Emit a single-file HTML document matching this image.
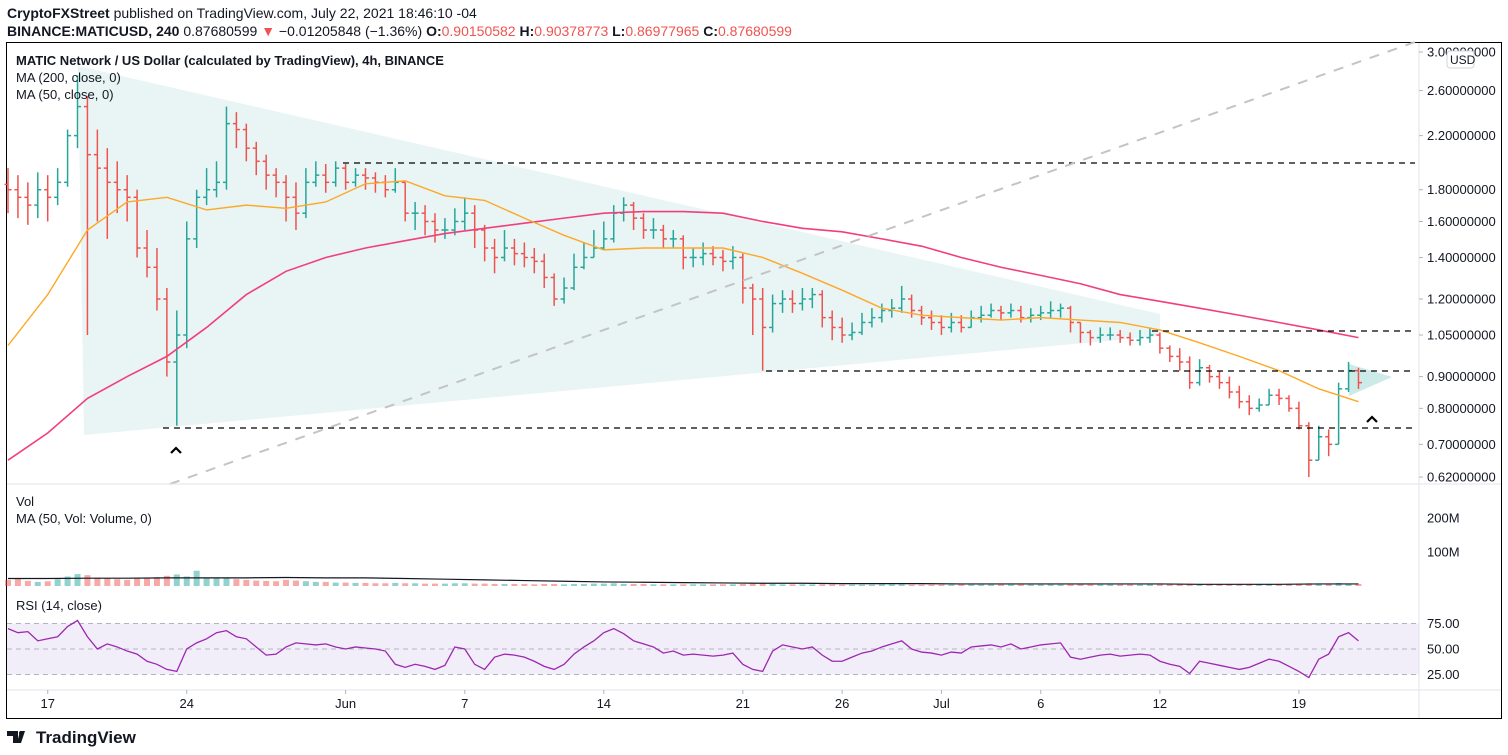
<!DOCTYPE html>
<html><head><meta charset="utf-8"><style>
body{margin:0;background:#fff;width:1508px;height:755px;overflow:hidden}
svg{display:block;font-family:"Liberation Sans",sans-serif}
</style></head><body>
<svg id="c" width="1508" height="755" viewBox="0 0 1508 755">
<text x="7" y="18" font-size="14" fill="#131722"><tspan font-weight="bold">CryptoFXStreet</tspan> published on TradingView.com, July 22, 2021 18:46:10 -04</text>
<text x="7" y="36" font-size="14" fill="#131722"><tspan font-weight="bold">BINANCE:MATICUSD, 240</tspan> 0.87680599 <tspan fill="#ef5350">▼</tspan> −0.01205848 (−1.36%) <tspan font-weight="bold">O:</tspan><tspan fill="#ef5350">0.90150582</tspan> <tspan font-weight="bold">H:</tspan><tspan fill="#ef5350">0.90378773</tspan> <tspan font-weight="bold">L:</tspan><tspan fill="#ef5350">0.86977965</tspan> <tspan font-weight="bold">C:</tspan><tspan fill="#ef5350">0.87680599</tspan></text>
<rect x="6.5" y="42.5" width="1495" height="676" fill="none" stroke="#000" stroke-width="1"/>
<g id="bg"></g>
<g id="marks"></g>
<g id="overlay"></g>
<line x1="1419" y1="43" x2="1419" y2="718" stroke="#e0e3eb"/>
<line x1="7" y1="484" x2="1501" y2="484" stroke="#e0e3eb"/>
<line x1="7" y1="690" x2="1501" y2="690" stroke="#e0e3eb"/>
<g id="axes" font-size="13" fill="#131722"></g>
<text x="16" y="65" font-size="13" font-weight="bold" fill="#131722">MATIC Network / US Dollar (calculated by TradingView), 4h, BINANCE</text>
<text x="16" y="82" font-size="13" fill="#131722">MA (200, close, 0)</text>
<text x="16" y="99" font-size="13" fill="#131722">MA (50, close, 0)</text>
<text x="16" y="506" font-size="13" fill="#131722">Vol</text>
<text x="16" y="523" font-size="13" fill="#131722">MA (50, Vol: Volume, 0)</text>
<text x="16" y="610" font-size="13" fill="#131722">RSI (14, close)</text>
<rect x="1447" y="51" width="27" height="17" rx="3" fill="#fff" stroke="#d1d4dc"/>
<text x="1450" y="64" font-size="12" fill="#131722">USD</text>
<g>
<path d="M7 731h11v12h-5v-7h-6z M20 731h5l-4 12h-4z" fill="#131722"/>
<circle cx="21" cy="733" r="2" fill="#131722"/>
<text x="36" y="743" font-size="17" font-weight="bold" fill="#131722">TradingView</text>
</g>
</svg>
<script>
const closes=[1.80,1.75,1.70,1.80,1.75,1.85,2.20,2.45,2.05,1.95,
1.85,1.80,1.75,1.45,1.35,1.20,0.95,1.05,1.50,1.75,
1.80,1.85,2.30,2.25,2.10,2.00,1.90,1.85,1.75,1.65,
1.85,1.90,1.85,1.95,1.85,1.90,1.88,1.85,1.80,1.85,
1.65,1.65,1.60,1.55,1.55,1.60,1.65,1.55,1.45,1.40,
1.45,1.42,1.40,1.38,1.30,1.20,1.25,1.35,1.40,1.45,
1.50,1.65,1.70,1.62,1.55,1.55,1.50,1.50,1.40,1.40,
1.42,1.40,1.38,1.40,1.25,1.20,1.08,1.18,1.20,1.18,
1.20,1.22,1.12,1.08,1.05,1.06,1.10,1.12,1.15,1.16,
1.20,1.15,1.12,1.10,1.08,1.10,1.08,1.12,1.13,1.15,
1.14,1.15,1.12,1.13,1.14,1.15,1.16,1.10,1.06,1.04,
1.05,1.05,1.04,1.03,1.04,1.05,1.00,0.97,0.95,0.88,
0.93,0.90,0.88,0.85,0.82,0.80,0.81,0.84,0.83,0.80,
0.75,0.66,0.72,0.70,0.86,0.92,0.88];
const highs=[1.95,1.90,1.85,1.92,1.90,1.95,2.25,2.75,2.55,2.25,
2.10,2.00,1.90,1.80,1.55,1.45,1.25,1.15,1.60,1.80,
1.95,2.00,2.45,2.40,2.30,2.15,2.05,1.95,1.90,1.85,
1.95,2.00,1.98,2.00,1.98,1.95,1.95,1.92,1.90,1.95,
1.85,1.72,1.70,1.65,1.62,1.68,1.75,1.70,1.58,1.50,
1.55,1.50,1.48,1.45,1.42,1.32,1.30,1.42,1.48,1.55,
1.60,1.70,1.75,1.72,1.65,1.62,1.58,1.55,1.52,1.45,
1.48,1.46,1.44,1.46,1.42,1.27,1.25,1.22,1.24,1.24,
1.25,1.25,1.24,1.15,1.12,1.10,1.14,1.16,1.18,1.20,
1.26,1.22,1.17,1.15,1.13,1.14,1.13,1.15,1.17,1.18,
1.17,1.18,1.17,1.16,1.17,1.19,1.18,1.17,1.10,1.07,
1.08,1.08,1.07,1.06,1.07,1.08,1.06,1.01,1.00,0.97,
0.96,0.94,0.92,0.90,0.87,0.84,0.83,0.86,0.86,0.84,
0.82,0.76,0.75,0.74,0.88,0.95,0.93];
const lows=[1.65,1.62,1.58,1.62,1.60,1.70,1.82,2.10,1.05,1.60,
1.50,1.65,1.60,1.40,1.30,1.15,0.90,0.75,1.00,1.45,
1.70,1.75,1.80,2.10,2.00,1.90,1.80,1.75,1.60,1.55,
1.62,1.82,1.78,1.82,1.80,1.82,1.80,1.78,1.75,1.78,
1.60,1.55,1.52,1.48,1.50,1.52,1.55,1.45,1.38,1.32,
1.38,1.36,1.35,1.32,1.25,1.17,1.18,1.24,1.34,1.40,
1.44,1.48,1.60,1.55,1.50,1.50,1.45,1.45,1.34,1.35,
1.36,1.36,1.33,1.34,1.18,1.05,0.92,1.06,1.14,1.14,
1.15,1.16,1.08,1.03,1.02,1.03,1.05,1.08,1.10,1.12,
1.14,1.12,1.09,1.07,1.05,1.06,1.06,1.08,1.10,1.12,
1.11,1.12,1.10,1.10,1.11,1.12,1.12,1.06,1.02,1.01,
1.02,1.03,1.02,1.01,1.01,1.02,0.98,0.95,0.92,0.86,
0.87,0.88,0.86,0.83,0.80,0.78,0.79,0.81,0.81,0.79,
0.74,0.62,0.66,0.67,0.70,0.85,0.86];
const volumes=[18,22,15,12,14,20,28,35,32,25, 22,20,18,24,22,26,30,34,28,45, 25,22,24,20,18,16,15,14,18,16, 14,12,12,10,10,9,9,8,8,9, 8,8,7,7,7,8,8,7,7,6, 6,6,6,5,6,6,5,6,6,7, 7,8,6,6,6,5,5,5,5,5, 5,5,5,5,6,7,9,6,5,5, 5,5,5,5,4,4,4,4,5,5, 5,4,4,4,4,4,4,4,4,4, 4,4,4,4,4,4,4,4,5,4, 4,4,4,4,4,5,5,5,5,6, 5,5,5,5,5,5,5,5,5,5, 6,8,7,6,9,7,6];
const volMA=[22,22,23,23,24,24,24,25,24,24,22,20,18,16,14,12,11,10,9,8,8,7,7,7,6,6,6,6,6,6,5,5,5,6,6];
const ma200=[0.66,0.73,0.83,0.90,0.97,1.08,1.22,1.33,1.40,1.45,1.49,1.53,1.56,1.59,1.62,1.65,1.66,1.66,1.65,1.60,1.56,1.54,1.50,1.46,1.40,1.35,1.31,1.27,1.22,1.19,1.16,1.13,1.10,1.07,1.04];
const ma50=[1.01,1.22,1.55,1.72,1.75,1.67,1.70,1.68,1.72,1.84,1.86,1.76,1.73,1.62,1.52,1.44,1.45,1.45,1.45,1.40,1.32,1.24,1.16,1.13,1.12,1.11,1.12,1.11,1.10,1.07,1.02,0.97,0.92,0.86,0.82];
const rsi=[70,66,67,58,60,62,72,78,62,50,55,52,48,45,38,35,30,28,50,56,60,66,68,62,60,52,44,45,52,56,55,54,55,52,50,52,51,50,48,35,32,35,33,30,34,52,50,35,30,42,45,44,42,38,33,30,35,45,52,58,66,70,65,58,55,52,46,48,44,45,44,43,44,46,35,30,28,48,54,52,50,52,44,38,38,42,46,48,52,55,58,50,47,46,44,47,46,52,53,54,52,55,50,52,54,55,56,42,40,42,44,45,43,44,45,44,38,35,33,26,38,36,34,32,30,32,36,40,38,33,28,22,40,45,62,66,58];
const priceTicks=[3.0,2.6,2.2,1.8,1.6,1.4,1.2,1.05,0.9,0.8,0.7,0.62];
const dateLabels=["17","24","Jun","7","14","21","26","Jul","6","12","19"];
const dateIdx=[4,18,34,46,60,74,84,94,104,116,130];
const volTicks=[200,100];
const rsiTicks=[75,50,25];

const NS="http://www.w3.org/2000/svg";
function el(tag,attrs,parent){const e=document.createElementNS(NS,tag);for(const k in attrs)e.setAttribute(k,attrs[k]);parent.appendChild(e);return e;}
const X=i=>8+i*9.93;
const Y=p=>52+(Math.log(3)-Math.log(p))*269.6;
const VY=v=>586-v*0.34;
const RY=v=>649-(v-50)*1.02;
const bg=document.getElementById('bg'),mk=document.getElementById('marks'),ov=document.getElementById('overlay'),ax=document.getElementById('axes');

let t=el('polygon',{points:"78,66 84,435 1160,336 1160,314",fill:"rgba(178,223,219,0.3)",stroke:"none"},bg);


t=el('polygon',{points:"1349,364 1349,396 1392,377",fill:"rgba(128,203,196,0.4)"},bg);


let r=el('rect',{x:7,y:RY(75),width:1412,height:RY(25)-RY(75),fill:"rgba(126,87,194,0.1)"},bg);


[75,50,25].forEach(v=>{const l=el('line',{x1:7,x2:1419,y1:RY(v),y2:RY(v),stroke:"#b2b5be","stroke-dasharray":"5,4"},bg);

});

for(let i=0;i<closes.length;i++){
 const o=i?closes[i-1]:closes[0]*1.02,c=closes[i];
 const col=c>=o?"#26a69a":"#ef5350";
 const g=el('g',{stroke:col,"stroke-width":1.5},mk);
 
 
 const x=X(i);
 el('line',{x1:x,x2:x,y1:Y(highs[i]),y2:Y(lows[i])},g);
 el('line',{x1:x-3.5,x2:x,y1:Y(o),y2:Y(o)},g);
 el('line',{x1:x,x2:x+3.5,y1:Y(c),y2:Y(c)},g);
 const vo=el('rect',{x:x-3,y:VY(volumes[i]),width:6,height:volumes[i]*0.34,fill:c>=o?"rgba(38,166,154,0.5)":"rgba(239,83,80,0.5)"},mk);
 
 
}
function poly(arr,step,fy,col,name,w){
 const p=el('polyline',{points:arr.map((v,k)=>X(k*step)+","+fy(v)).join(" "),fill:"none",stroke:col,"stroke-width":w},ov);
 
 
}
poly(ma200,4,Y,"#f23f7c","ma200-line",1.6);
poly(ma50,4,Y,"#ffa726","ma50-line",1.4);
poly(volMA,4,VY,"#131722","volume-ma-line",1.2);
poly(rsi,1,RY,"#9c27b0","rsi-line",1.3);

[[343,163],[1152,331],[766,371],[163,428]].forEach(([x0,y])=>{
 const l=el('line',{x1:x0,x2:1415,y1:y,y2:y,stroke:"#000","stroke-dasharray":"6,5","stroke-width":1.2},ov);
 
 
});
let tl=el('line',{x1:170,y1:484,x2:1415,y2:42,stroke:"#c4c4c4","stroke-dasharray":"10,9","stroke-width":2},ov);


[[176,449],[1372,418]].forEach(([x,y])=>{
 const c=el('polyline',{points:(x-5)+","+(y+4)+" "+x+","+(y-1)+" "+(x+5)+","+(y+4),fill:"none",stroke:"#000","stroke-width":2.2},ov);
 
 
});

priceTicks.forEach(p=>{const y=Y(p);
 el('line',{x1:1419,x2:1423,y1:y,y2:y,stroke:"#b2b5be"},ax);
 const tx=el('text',{x:1427,y:y+4.5},ax);tx.textContent=p.toFixed(8);
 
 });
volTicks.forEach(v=>{const tx=el('text',{x:1427,y:VY(v)+4.5},ax);tx.textContent=v+"M";
 
 });
rsiTicks.forEach(v=>{const tx=el('text',{x:1427,y:RY(v)+4.5},ax);tx.textContent=v.toFixed(2);
 
 });
dateLabels.forEach((d,k)=>{const x=X(dateIdx[k]);
 el('line',{x1:x,x2:x,y1:690,y2:694,stroke:"#b2b5be"},ax);
 const tx=el('text',{x:x,y:708,"text-anchor":"middle"},ax);tx.textContent=d;
 
 });
</script>
</body></html>
